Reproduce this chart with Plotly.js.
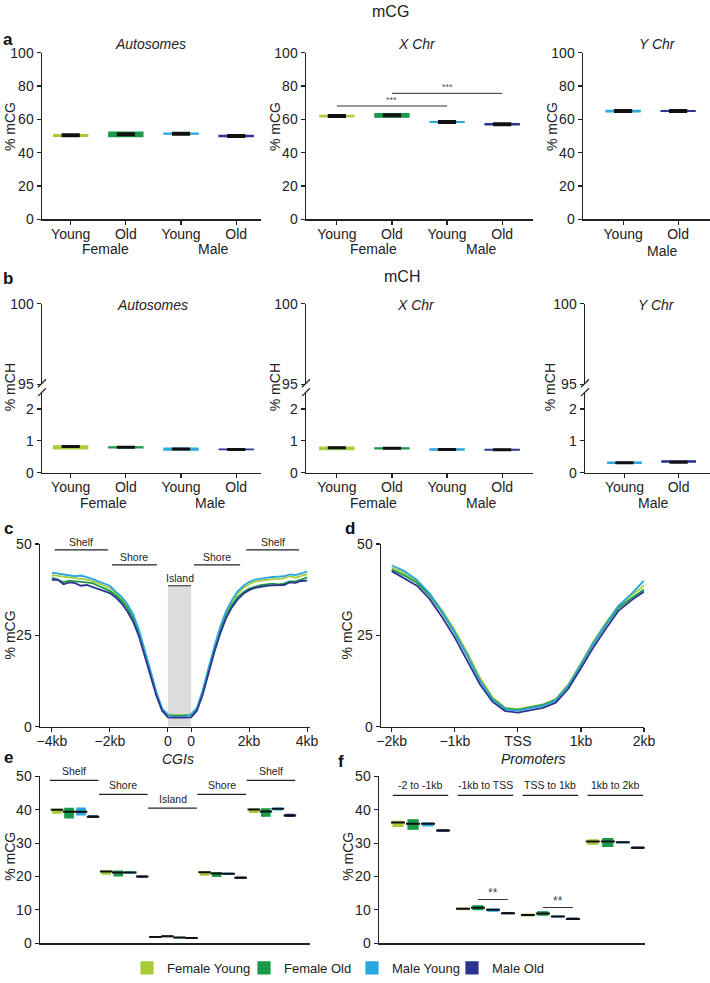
<!DOCTYPE html>
<html><head><meta charset="utf-8">
<script src="https://cdn.plot.ly/plotly-3.0.1.min.js"></script>
<style>html,body{margin:0;padding:0;background:#fff}#chart{width:710px;height:983px}</style>
</head><body><div id="chart"></div>
<script>
// ================= DATA =================
const seriesNames = ['Female Young', 'Female Old', 'Male Young', 'Male Old'];
const groupTicks = ['Young', 'Old', 'Young', 'Old'];
const yChrTicks = ['Young', 'Old'];
const yChrSeries = [2, 3]; // Male Young, Male Old

// a: mCG (%) – median, box low, box high
const mcgAutoMed  = [50.4, 51.0, 51.4, 50.0];
const mcgAutoLow  = [49.8, 49.6, 51.1, 49.6];
const mcgAutoHigh = [50.9, 52.4, 51.7, 50.4];
const mcgXMed  = [62.0, 62.5, 58.4, 57.0];
const mcgXLow  = [61.5, 61.3, 58.2, 56.6];
const mcgXHigh = [62.4, 63.5, 58.7, 57.5];
const mcgYMed  = [65.0, 65.0];
const mcgYLow  = [64.5, 64.7];
const mcgYHigh = [65.4, 65.3];

// b: mCH (%)
const mchAutoMed  = [0.82, 0.80, 0.74, 0.73];
const mchAutoLow  = [0.75, 0.78, 0.71, 0.72];
const mchAutoHigh = [0.84, 0.81, 0.77, 0.74];
const mchXMed  = [0.78, 0.77, 0.73, 0.72];
const mchXLow  = [0.72, 0.75, 0.71, 0.71];
const mchXHigh = [0.80, 0.78, 0.75, 0.73];
const mchYMed  = [0.31, 0.33];
const mchYLow  = [0.29, 0.33];
const mchYHigh = [0.33, 0.37];

// c: CGI profile, position in kb (island drawn between the two "0" marks)
const cgiPos = [-4, -3.8, -3.6, -3.4, -3.2, -3, -2.8, -2.6, -2.4, -2.2, -2, -1.8, -1.6, -1.4, -1.2, -1, -0.8, -0.6, -0.4, -0.2, 0,
  0.2, 0.4, 0.6,
  0.8, 1.0, 1.2, 1.4, 1.6, 1.8, 2.0, 2.2, 2.4, 2.6, 2.8, 3.0, 3.2, 3.4, 3.6, 3.8, 4.0, 4.2, 4.4, 4.6, 4.8];
const cgiTickVals = [-4, -2, 0, 0.8, 2.8, 4.8];
const cgiTickText = ['\u22124kb', '\u22122kb', '0', '0', '2kb', '4kb'];
const cgiFY = [41.5, 41.3, 41.0, 40.8, 40.6, 40.6, 40.3, 39.9, 39.2, 38.6, 38.0, 36.6, 35.1, 33.0, 30.2, 26.0, 20.7, 15.0, 9.3, 4.9, 3.4,
  3.2, 3.1, 3.1,
  3.4, 5.0, 9.7, 15.9, 21.6, 26.8, 31.0, 34.0, 36.4, 38.0, 39.0, 39.7, 40.0, 40.3, 40.4, 40.5, 40.6, 41.2, 40.8, 41.3, 41.8];
const cgiFO = [40.8, 40.2, 39.6, 40.0, 39.8, 39.6, 39.5, 39.3, 38.6, 37.8, 37.2, 36.0, 34.5, 32.5, 29.6, 25.6, 20.3, 14.6, 9.0, 4.7, 3.2,
  3.0, 3.0, 3.0,
  3.2, 4.8, 9.3, 15.3, 21.0, 26.0, 30.2, 33.2, 35.4, 36.8, 37.8, 38.4, 38.8, 39.0, 39.2, 39.0, 39.2, 39.8, 39.8, 40.3, 40.9];
const cgiMY = [42.2, 42.0, 41.7, 41.5, 41.2, 41.4, 41.0, 40.5, 39.8, 39.3, 38.6, 37.0, 35.6, 33.6, 30.8, 26.6, 21.2, 15.4, 9.6, 5.0, 3.3,
  2.7, 2.6, 2.7,
  3.4, 5.2, 10.0, 16.3, 22.0, 27.2, 31.6, 34.6, 37.0, 38.6, 39.6, 40.3, 40.6, 40.9, 41.0, 41.1, 41.2, 41.7, 41.5, 42.0, 42.5];
const cgiMO = [40.2, 40.3, 39.0, 39.5, 39.3, 38.6, 38.8, 38.2, 37.6, 37.0, 36.6, 35.4, 33.8, 31.6, 28.8, 24.8, 19.6, 14.0, 8.6, 4.4, 2.6,
  2.5, 2.4, 2.5,
  2.6, 4.4, 8.8, 14.8, 20.4, 25.4, 29.6, 32.6, 34.8, 36.4, 37.4, 38.0, 38.4, 38.6, 38.7, 38.7, 38.8, 39.5, 39.4, 39.9, 40.0];
const cgiRegionLabels = ['Shelf', 'Shore', 'Island', 'Shore', 'Shelf'];
const cgiRegionStart = [-3.9, -1.93, 0, 0.9, 2.7];
const cgiRegionEnd   = [-2.07, -0.38, 0.8, 2.49, 4.52];
const cgiRegionLevel = [48.4, 44.3, 38.6, 44.3, 48.4];

// d: TSS profile
const tssPos = [-2, -1.8, -1.6, -1.4, -1.2, -1, -0.8, -0.6, -0.4, -0.2, 0, 0.2, 0.4, 0.6, 0.8, 1, 1.2, 1.4, 1.6, 1.8, 2];
const tssTickVals = [-2, -1, 0, 1, 2];
const tssTickText = ['\u22122kb', '\u22121kb', 'TSS', '1kb', '2kb'];
const tssFY = [43.6, 42.0, 39.8, 36.4, 31.8, 26.4, 20.2, 13.4, 8.0, 5.2, 4.8, 5.4, 6.1, 7.6, 11.6, 17.4, 23.4, 28.6, 33.2, 36.0, 38.6];
const tssFO = [43.0, 41.4, 39.4, 36.0, 31.2, 25.6, 19.4, 12.6, 7.6, 5.0, 4.6, 5.3, 6.0, 7.4, 11.2, 16.9, 22.8, 28.0, 32.6, 35.2, 37.6];
const tssMY = [44.2, 42.6, 40.2, 36.5, 31.5, 25.8, 19.5, 12.6, 7.4, 4.8, 4.4, 5.0, 5.7, 7.2, 11.2, 17.0, 23.0, 28.3, 33.2, 36.4, 40.0];
const tssMO = [42.6, 40.6, 38.6, 35.0, 30.0, 24.4, 18.2, 11.6, 6.8, 4.3, 3.9, 4.5, 5.2, 6.6, 10.4, 16.0, 21.8, 27.0, 31.8, 34.6, 37.0];

// e: CGI regions, per series [Shelf, Shore, Island, Shore, Shelf]
const cgiBoxMed  = [[40.0, 21.5, 1.9, 21.3, 40.1], [39.4, 21.2, 2.1, 20.9, 39.5], [39.4, 21.2, 1.7, 20.8, 40.3], [37.9, 20.0, 1.6, 19.6, 38.3]];
const cgiBoxLow  = [[39.0, 20.7, 1.8, 20.4, 39.2], [37.6, 20.2, 2.0, 20.0, 38.1], [38.5, 21.0, 1.6, 20.6, 40.0], [37.7, 19.8, 1.5, 19.4, 38.0]];
const cgiBoxHigh = [[40.2, 21.7, 2.0, 21.5, 40.3], [40.4, 21.6, 2.2, 21.2, 40.3], [40.5, 21.4, 1.8, 21.0, 40.5], [38.2, 20.1, 1.7, 19.8, 38.6]];
const cgiBoxLabelLevel = [48.8, 44.6, 40.5, 44.6, 48.8];

// f: promoter regions, per series
const promLabels = ['-2 to -1kb', '-1kb to TSS', 'TSS to 1kb', '1kb to 2kb'];
const promMed  = [[36.2, 10.3, 8.5, 30.5], [35.8, 10.6, 8.9, 30.5], [35.8, 10.0, 8.0, 30.3], [33.8, 9.0, 7.3, 28.6]];
const promLow  = [[35.0, 10.1, 8.2, 29.7], [34.2, 10.1, 8.4, 29.0], [35.2, 9.6, 7.9, 30.1], [33.6, 8.9, 7.2, 28.4]];
const promHigh = [[36.5, 10.5, 8.7, 31.0], [37.0, 11.2, 9.4, 31.4], [36.1, 10.2, 8.1, 30.5], [34.0, 9.2, 7.5, 28.8]];
const promLabelLevel = 44.3;
const promSig = [{group: 1, level: 13.1}, {group: 2, level: 10.7}];

// ================= STYLE / LAYOUT =================
const COLORS = ['#a6cd38', '#1a9a48', '#2aa7df', '#2d3590'];
const W = 710, H = 983;
const FONT = 'Liberation Sans, Arial, sans-serif';
const px = x => x / W;
const py = y => 1 - y / H;
const hdom = (a, b) => [a / W, b / W];
const vdom = (top, bot) => [1 - bot / H, 1 - top / H];

const axBase = {
  showline: true, linecolor: '#222', linewidth: 1.5, ticks: 'outside', ticklen: 4, tickwidth: 1.2,
  tickcolor: '#222', showgrid: false, zeroline: false, fixedrange: true,
  tickfont: {family: FONT, size: 14, color: '#222'}
};
const ax = (o) => Object.assign({}, axBase, o);
const xax = (o) => Object.assign({}, axBase, {ticklabelstandoff: -3}, o);

const traces = [];
const shapes = [];
const annotations = [];

function txt(x, y, text, o) {
  annotations.push(Object.assign({xref: 'paper', yref: 'paper', x: px(x), y: py(y), text: text, showarrow: false,
    xanchor: 'center', yanchor: 'middle', font: {family: FONT, size: 14, color: '#222'}}, o || {}));
}

function addBoxes(xa, ya, s, xs, lows, highs, meds, width, medSize, medLw, legendId) {
  traces.push({type: 'bar', xaxis: xa, yaxis: ya, x: xs, base: lows, y: highs.map((h, i) => h - lows[i]),
    width: width, marker: {color: COLORS[s], line: {color: COLORS[s], width: 1.2}},
    name: seriesNames[s], showlegend: !!legendId, legend: legendId || 'legend', hoverinfo: 'skip'});
  traces.push({type: 'scatter', mode: 'markers', xaxis: xa, yaxis: ya, x: xs, y: meds,
    marker: {symbol: 'line-ew', size: medSize, color: '#111', line: {color: '#111', width: medLw}},
    showlegend: false, hoverinfo: 'skip'});
}

// ---- panel a ----
[[ 'x', 'y', mcgAutoLow, mcgAutoHigh, mcgAutoMed], ['x2', 'y2', mcgXLow, mcgXHigh, mcgXMed]].forEach(([xa, ya, lo, hi, md]) => {
  seriesNames.forEach((n, s) => addBoxes(xa, ya, s, [s], [lo[s]], [hi[s]], [md[s]], 0.62, 13, 4));
});
yChrSeries.forEach((s, i) => addBoxes('x3', 'y3', s, [i], [mcgYLow[i]], [mcgYHigh[i]], [mcgYMed[i]], 0.62, 13, 4));

// ---- panel b ----
[[ 'x4', 'y4', mchAutoLow, mchAutoHigh, mchAutoMed], ['x5', 'y5', mchXLow, mchXHigh, mchXMed]].forEach(([xa, ya, lo, hi, md]) => {
  seriesNames.forEach((n, s) => addBoxes(xa, ya, s, [s], [lo[s]], [hi[s]], [md[s]], 0.62, 13, 3));
});
yChrSeries.forEach((s, i) => addBoxes('x6', 'y6', s, [i], [mchYLow[i]], [mchYHigh[i]], [mchYMed[i]], 0.62, 13, 3));
// upper (broken) parts
[['x4', 'y11'], ['x5', 'y12'], ['x6', 'y13']].forEach(([xa, ya]) =>
  traces.push({type: 'scatter', mode: 'markers', xaxis: xa, yaxis: ya, x: [], y: [], showlegend: false, hoverinfo: 'skip'}));

// ---- panel c ----
[cgiFY, cgiFO, cgiMY, cgiMO].forEach((ys, s) => traces.push({type: 'scatter', mode: 'lines', xaxis: 'x7', yaxis: 'y7',
  x: cgiPos, y: ys, line: {color: COLORS[s], width: 1.8}, showlegend: false, hoverinfo: 'skip'}));
shapes.push({type: 'rect', xref: 'x7', yref: 'y7', x0: 0, x1: 0.8, y0: 0, y1: cgiRegionLevel[2], fillcolor: '#dcdcdc',
  line: {width: 0}, layer: 'below'});
cgiRegionLabels.forEach((lab, i) => {
  shapes.push({type: 'line', xref: 'x7', yref: 'y7', x0: cgiRegionStart[i], x1: cgiRegionEnd[i], y0: cgiRegionLevel[i], y1: cgiRegionLevel[i],
    line: {color: '#222', width: 1.2}});
  annotations.push({xref: 'x7', yref: 'y7', x: (cgiRegionStart[i] + cgiRegionEnd[i]) / 2, y: cgiRegionLevel[i], yshift: 8, text: lab,
    showarrow: false, font: {family: FONT, size: 10.5, color: '#222'}});
});

// ---- panel d ----
[tssFY, tssFO, tssMY, tssMO].forEach((ys, s) => traces.push({type: 'scatter', mode: 'lines', xaxis: 'x8', yaxis: 'y8',
  x: tssPos, y: ys, line: {color: COLORS[s], width: 1.8}, showlegend: false, hoverinfo: 'skip'}));

// ---- panel e ----
const E_STRIDE = 4.1;
const legendIds = ['legend', 'legend2', 'legend3', 'legend4'];
seriesNames.forEach((n, s) => {
  const xs = cgiRegionLabels.map((r, g) => g * E_STRIDE + s);
  addBoxes('x9', 'y9', s, xs, cgiBoxLow[s], cgiBoxHigh[s], cgiBoxMed[s], 0.7, 9, 2, legendIds[s]);
});
cgiRegionLabels.forEach((lab, g) => {
  const x0 = g * E_STRIDE - 0.6, x1 = g * E_STRIDE + 3.45;
  shapes.push({type: 'line', xref: 'x9', yref: 'y9', x0: x0, x1: x1, y0: cgiBoxLabelLevel[g], y1: cgiBoxLabelLevel[g], line: {color: '#222', width: 1.2}});
  annotations.push({xref: 'x9', yref: 'y9', x: (x0 + x1) / 2, y: cgiBoxLabelLevel[g], yshift: 9, text: lab, showarrow: false,
    font: {family: FONT, size: 10.5, color: '#222'}});
});

// ---- panel f ----
const F_STRIDE = 4.33;
seriesNames.forEach((n, s) => {
  const xs = promLabels.map((r, g) => g * F_STRIDE + s);
  addBoxes('x10', 'y10', s, xs, promLow[s], promHigh[s], promMed[s], 0.67, 10, 2);
});
promLabels.forEach((lab, g) => {
  const x0 = g * F_STRIDE - 0.35, x1 = g * F_STRIDE + 3.35;
  shapes.push({type: 'line', xref: 'x10', yref: 'y10', x0: x0, x1: x1, y0: promLabelLevel, y1: promLabelLevel, line: {color: '#222', width: 1.2}});
  annotations.push({xref: 'x10', yref: 'y10', x: (x0 + x1) / 2, y: promLabelLevel, yshift: 10, text: lab, showarrow: false,
    font: {family: FONT, size: 10.5, color: '#222'}});
});
promSig.forEach(sg => {
  const x0 = sg.group * F_STRIDE + 1, x1 = sg.group * F_STRIDE + 3;
  shapes.push({type: 'line', xref: 'x10', yref: 'y10', x0: x0, x1: x1, y0: sg.level, y1: sg.level, line: {color: '#333', width: 1}});
  annotations.push({xref: 'x10', yref: 'y10', x: (x0 + x1) / 2, y: sg.level, yshift: 7, text: '**', showarrow: false,
    font: {family: FONT, size: 12, color: '#444'}});
});

// significance in a (X Chr)
[{a: 0, b: 2, level: 68}, {a: 1, b: 3, level: 75.6}].forEach(sg => {
  shapes.push({type: 'line', xref: 'x2', yref: 'y2', x0: sg.a, x1: sg.b, y0: sg.level, y1: sg.level, line: {color: '#333', width: 1}});
  annotations.push({xref: 'x2', yref: 'y2', x: (sg.a + sg.b) / 2, y: sg.level, yshift: 6, text: '***', showarrow: false,
    font: {family: FONT, size: 9, color: '#555'}});
});

// break marks for b
[42, 306, 585].forEach(x => {
  [[390, 382], [399, 391]].forEach(([ya, yb]) => shapes.push({type: 'line', xref: 'paper', yref: 'paper',
    x0: px(x - 4), x1: px(x + 4), y0: py(ya), y1: py(yb), line: {color: '#222', width: 1.2}}));
});

// ---- text ----
txt(390, 12, 'mCG', {font: {family: FONT, size: 16, color: '#222'}});
txt(402, 278, 'mCH', {font: {family: FONT, size: 16, color: '#222'}});
[['a', 8, 40], ['b', 8, 281], ['c', 8, 532], ['d', 350, 532], ['e', 8, 763], ['f', 341, 767]].forEach(([t, x, y]) =>
  txt(x, y, '<b>' + t + '</b>', {font: {family: FONT, size: 17, color: '#111'}}));
[[150, 44, 'Autosomes'], [417, 44, 'X Chr'], [657, 44, 'Y Chr'], [152, 307, 'Autosomes'], [416, 307, 'X Chr'], [656, 307, 'Y Chr'],
 [178, 764, 'CGIs'], [533, 764, 'Promoters']].forEach(([x, y, t]) => txt(x, y, '<i>' + t + '</i>'));
[[10, 128, '% mCG'], [275, 128, '% mCG'], [552, 128, '% mCG'], [10, 390, '% mCH'], [275, 390, '% mCH'], [550, 390, '% mCH'],
 [10, 640, '% mCG'], [347, 640, '% mCG'], [10, 863, '% mCG'], [348, 863, '% mCG']].forEach(([x, y, t]) => txt(x, y, t, {textangle: -90}));
[[105, 251, 'Female'], [213, 251, 'Male'], [373, 251, 'Female'], [481, 251, 'Male'], [662, 253, 'Male'],
 [103, 507, 'Female'], [210, 507, 'Male'], [373, 507, 'Female'], [481, 507, 'Male'], [653, 507, 'Male']].forEach(([x, y, t]) => txt(x, y, t));

const legendBase = {orientation: 'h', xanchor: 'left', y: py(975), yanchor: 'middle',
  font: {family: FONT, size: 13, color: '#222'}, bgcolor: 'rgba(0,0,0,0)', itemwidth: 30};
const legendX = [127, 244, 352, 452];

const catTicks = {tickvals: [0, 1, 2, 3], ticktext: groupTicks};
const yTicks = {tickvals: [0, 1], ticktext: yChrTicks};
const layout = {
  width: W, height: H, margin: {l: 0, r: 0, t: 0, b: 0}, paper_bgcolor: '#fff', plot_bgcolor: 'rgba(0,0,0,0)',
  barmode: 'overlay', showlegend: true, hovermode: false,
  font: {family: FONT, color: '#222'},
  legend:  Object.assign({}, legendBase, {x: px(legendX[0])}),
  legend2: Object.assign({}, legendBase, {x: px(legendX[1])}),
  legend3: Object.assign({}, legendBase, {x: px(legendX[2])}),
  legend4: Object.assign({}, legendBase, {x: px(legendX[3])}),
  xaxis:  xax(Object.assign({domain: hdom(42, 261), range: [-0.52, 3.45], anchor: 'y'}, catTicks)),
  yaxis:  ax({domain: vdom(53, 221), range: [0, 100], anchor: 'x', tickvals: [0, 20, 40, 60, 80, 100]}),
  xaxis2: xax(Object.assign({domain: hdom(306, 533), range: [-0.56, 3.56], anchor: 'y2'}, catTicks)),
  yaxis2: ax({domain: vdom(53, 221), range: [0, 100], anchor: 'x2', tickvals: [0, 20, 40, 60, 80, 100]}),
  xaxis3: xax(Object.assign({domain: hdom(583, 710), range: [-0.73, 1.58], anchor: 'y3'}, yTicks)),
  yaxis3: ax({domain: vdom(53, 221), range: [0, 100], anchor: 'x3', tickvals: [0, 20, 40, 60, 80, 100]}),
  xaxis4: xax(Object.assign({domain: hdom(42, 261), range: [-0.52, 3.45], anchor: 'y4'}, catTicks)),
  yaxis4: ax({domain: vdom(396, 476), range: [0, 2.5], anchor: 'x4', tickvals: [0, 1, 2]}),
  yaxis11: ax({domain: vdom(306, 387), range: [95, 100], anchor: 'x4', tickvals: [95, 100]}),
  xaxis5: xax(Object.assign({domain: hdom(306, 533), range: [-0.56, 3.56], anchor: 'y5'}, catTicks)),
  yaxis5: ax({domain: vdom(396, 476), range: [0, 2.5], anchor: 'x5', tickvals: [0, 1, 2]}),
  yaxis12: ax({domain: vdom(306, 387), range: [95, 100], anchor: 'x5', tickvals: [95, 100]}),
  xaxis6: xax(Object.assign({domain: hdom(585, 710), range: [-0.73, 1.58], anchor: 'y6'}, yTicks)),
  yaxis6: ax({domain: vdom(396, 476), range: [0, 2.5], anchor: 'x6', tickvals: [0, 1, 2]}),
  yaxis13: ax({domain: vdom(306, 387), range: [95, 100], anchor: 'x6', tickvals: [95, 100]}),
  xaxis7: xax({domain: hdom(40, 310), range: [-4.41, 4.9], anchor: 'y7', tickvals: cgiTickVals, ticktext: cgiTickText}),
  yaxis7: ax({domain: vdom(548, 732), range: [0, 50], anchor: 'x7', tickvals: [0, 25, 50]}),
  xaxis8: xax({domain: hdom(381, 644), range: [-2.17, 2.0], anchor: 'y8', tickvals: tssTickVals, ticktext: tssTickText}),
  yaxis8: ax({domain: vdom(548, 732), range: [0, 50], anchor: 'x8', tickvals: [0, 25, 50]}),
  xaxis9: ax({domain: hdom(40, 310), range: [-1.42, 21.08], anchor: 'y9', ticks: '', showticklabels: false}),
  yaxis9: ax({domain: vdom(782, 950), range: [0, 50], anchor: 'x9', tickvals: [0, 10, 20, 30, 40, 50]}),
  xaxis10: ax({domain: hdom(379, 645), range: [-1.27, 16.47], anchor: 'y10', ticks: '', showticklabels: false}),
  yaxis10: ax({domain: vdom(782, 950), range: [0, 50], anchor: 'x10', tickvals: [0, 10, 20, 30, 40, 50]}),
  shapes: shapes, annotations: annotations
};

Plotly.newPlot('chart', traces, layout, {displayModeBar: false, staticPlot: true});
</script>
</body></html>
